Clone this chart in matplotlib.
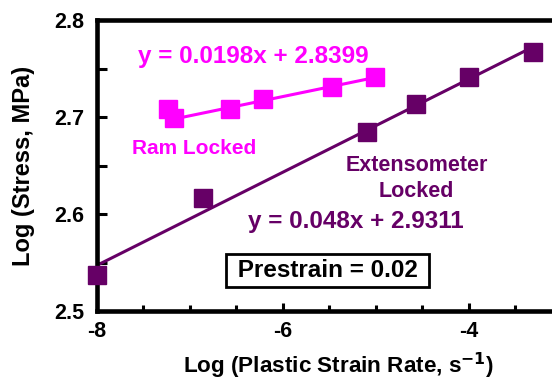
"""Log stress vs log plastic strain rate, prestrain 0.02, with linear fits."""

import matplotlib
matplotlib.use("Agg")
import matplotlib.pyplot as plt
import numpy as np
from matplotlib.ticker import MultipleLocator, FormatStrFormatter

plt.rcParams["font.family"] = ["Liberation Sans", "DejaVu Sans"]
plt.rcParams["font.weight"] = "bold"
plt.rcParams["axes.unicode_minus"] = False
plt.rcParams["mathtext.default"] = "bf"

# Extensometer locked
ext_x = [-8.0, -6.86, -5.09, -4.57, -4.0, -3.31]
ext_y = [2.537, 2.6165, 2.6845, 2.713, 2.741, 2.767]
ext_fit = (0.048, 2.9311)

# Ram locked
ram_x = [-7.24, -7.17, -6.57, -6.21, -5.47, -5.01]
ram_y = [2.708, 2.699, 2.708, 2.719, 2.731, 2.741]
ram_fit = (0.0198, 2.8399)

RAM = "#FF00FF"
EXT = "#660066"

fig = plt.figure(figsize=(5.52, 3.81), dpi=100)
ax = fig.add_axes([0.1757, 0.1837, 0.842, 0.7638])

for xs, ys, (m, b), col in [(ext_x, ext_y, ext_fit, EXT), (ram_x, ram_y, ram_fit, RAM)]:
    xf = np.array([min(xs), max(xs)])
    ax.plot(xf, m * xf + b, color=col, lw=2.2, zorder=2)
    ax.plot(xs, ys, "s", color=col, ms=13, zorder=3, clip_on=False)

ax.set_xlim(-8, -3)
ax.set_ylim(2.5, 2.8)
ax.xaxis.set_major_locator(MultipleLocator(2))
ax.xaxis.set_minor_locator(MultipleLocator(0.5))
ax.yaxis.set_major_locator(MultipleLocator(0.1))
ax.yaxis.set_minor_locator(MultipleLocator(0.05))
ax.yaxis.set_major_formatter(FormatStrFormatter("%.1f"))

for s in ["left", "bottom", "top"]:
    ax.spines[s].set_linewidth(3.3)
ax.spines["right"].set_visible(False)

ax.tick_params(axis="x", which="major", direction="in", length=6, width=2.2,
               labelsize=15.5, pad=7, top=False)
ax.tick_params(axis="x", which="minor", direction="in", length=4, width=2.2, top=False)
ax.tick_params(axis="y", which="both", direction="in", length=7, width=2.2,
               labelsize=15.5, pad=9, right=False)

ax.set_xlabel("Log (Plastic Strain Rate, s$^{-1}$)", fontsize=16.2, fontweight="bold")
ax.xaxis.set_label_coords(0.519, -0.137)
ax.set_ylabel("Log (Stress, MPa)", fontsize=17, fontweight="bold")
ax.yaxis.set_label_coords(-0.133, 0.5)

ax.text(-6.32, 2.762, "y = 0.0198x + 2.8399", color=RAM, fontsize=17.5,
        fontweight="bold", ha="center", va="center")
ax.text(-6.95, 2.668, "Ram Locked", color=RAM, fontsize=15,
        fontweight="bold", ha="center", va="center")
ax.text(-4.56, 2.650, "Extensometer", color=EXT, fontsize=15.5,
        fontweight="bold", ha="center", va="center")
ax.text(-4.56, 2.623, "Locked", color=EXT, fontsize=15.5,
        fontweight="bold", ha="center", va="center")
ax.text(-5.22, 2.592, "y = 0.048x + 2.9311", color=EXT, fontsize=17.5,
        fontweight="bold", ha="center", va="center")
ax.text(-5.52, 2.542, " Prestrain = 0.02 ", color="black", fontsize=17.5,
        fontweight="bold", ha="center", va="center",
        bbox=dict(boxstyle="square,pad=0.2", fc="white", ec="black", lw=2))

fig.savefig("out.png", dpi=100)
